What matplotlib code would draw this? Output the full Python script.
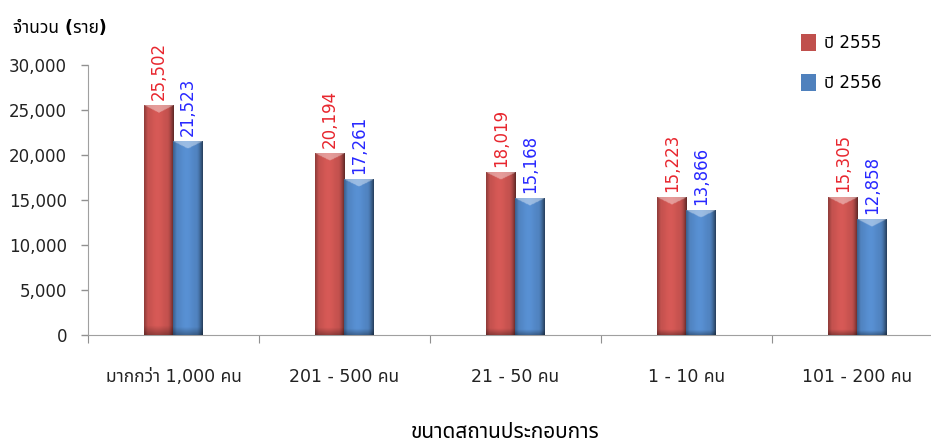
import matplotlib
matplotlib.use("Agg")
import matplotlib.pyplot as plt
import numpy as np
from matplotlib import font_manager
from matplotlib.ft2font import FT2Font
from matplotlib.ticker import FuncFormatter

# ข้อมูลจำนวนราย แยกตามขนาดสถานประกอบการ
categories = ['มากกว่า 1,000 คน', '201 - 500 คน', '21 - 50 คน', '1 - 10 คน', '101 - 200 คน']
values_2555 = [25502, 20194, 18019, 15223, 15305]
values_2556 = [21523, 17261, 15168, 13866, 12858]
series_names = ['ปี 2555', 'ปี 2556']


def find_thai_font():
    # หาฟอนต์ที่มีอักษรไทยในเครื่อง
    found = []
    for path in font_manager.findSystemFonts():
        try:
            cmap = FT2Font(path).get_charmap()
        except Exception:
            continue
        if 0x0E01 in cmap and 0x0E33 in cmap:
            name = font_manager.FontProperties(fname=path).get_name()
            found.append(name)
    for pref in ['Tahoma', 'Noto Sans Thai', 'Noto Sans Thai UI', 'Loma', 'Garuda', 'Norasi']:
        if pref in found:
            return pref
    return found[0] if found else None


thai = find_thai_font()
families = ['DejaVu Sans'] + ([thai] if thai else [])
plt.rcParams['font.family'] = families

red = '#c0504d'
blue = '#4f81bd'


def shade_bar(ax, rect, color):
    # แต่งแท่งให้ดูนูนด้วยการไล่เฉดสี
    x0, y0 = rect.get_x(), rect.get_y()
    w, h = rect.get_width(), rect.get_height()
    base = np.array(matplotlib.colors.to_rgb(color))
    nx, ny = 40, 300
    u = np.linspace(0, 1, nx)
    prof = 1.0 + 0.12 * np.exp(-((u - 0.45) / 0.25) ** 2)
    prof = prof - 0.5 * np.clip((u - 0.8) / 0.2, 0, 1) ** 1.5
    prof = prof - 0.25 * np.clip((0.12 - u) / 0.12, 0, 1)
    img = np.ones((ny, nx, 3)) * base
    img = img * prof[None, :, None]
    v = np.linspace(0, 1, ny)[:, None]
    bottom = 1 - 0.3 * np.clip((0.04 - v) / 0.04, 0, 1)
    img = img * bottom[:, :, None]
    # แถบสว่างรูปตัววีด้านบน
    top_px = 16.0 / 270 * 30000
    vv = (h - v * h) / top_px
    chevron = (vv < (1 - np.abs(u - 0.5) * 2)[None, :] * 0.45) & (vv >= 0)
    img[chevron] = img[chevron] * 0.6 + 0.4
    img = np.clip(img, 0, 1)
    ax.imshow(img, extent=(x0, x0 + w, y0, y0 + h), origin='lower',
              aspect='auto', zorder=3, interpolation='bilinear')


fig = plt.figure(figsize=(9.31, 4.43), dpi=100)
ax = fig.add_axes([0.0945, 0.2438, 0.918, 0.6095])

x = np.arange(len(categories))
width = 0.17
bars1 = ax.bar(x - width / 2, values_2555, width, color=red, label=series_names[0], zorder=2)
bars2 = ax.bar(x + width / 2, values_2556, width, color=blue, label=series_names[1], zorder=2)

for rect in bars1:
    shade_bar(ax, rect, red)
for rect in bars2:
    shade_bar(ax, rect, blue)

for bars, vals, col in [(bars1, values_2555, '#e8262e'), (bars2, values_2556, '#2828ff')]:
    for rect, v in zip(bars, vals):
        ax.annotate(f'{v:,}', (rect.get_x() + rect.get_width() / 2, v),
                    xytext=(0, 4), textcoords='offset points', rotation=90,
                    ha='center', va='bottom', color=col, fontsize=12)

ax.set_xlim(-0.5, len(categories) - 0.5)
ax.set_ylim(0, 30000)
ax.set_yticks(np.arange(0, 30001, 5000))
ax.yaxis.set_major_formatter(FuncFormatter(lambda v, p: f'{int(v):,}'))
ax.tick_params(axis='y', labelsize=12, color='#909090', length=5, width=1, pad=10, labelcolor='#222222')

# ขีดแบ่งกลุ่มบนแกนนอน
ax.set_xticks(np.arange(-0.5, len(categories), 1.0))
ax.set_xticklabels([])
ax.set_xticks(x, minor=True)
ax.set_xticklabels(categories, minor=True, fontsize=12.5, color='#222222')
ax.tick_params(axis='x', which='major', direction='out', length=6, color='#909090')
ax.tick_params(axis='x', which='minor', length=0, pad=24)

for s in ['top', 'right']:
    ax.spines[s].set_visible(False)
for s in ['left', 'bottom']:
    ax.spines[s].set_color('#a0a0a0')

fig.text(13 / 931, 1 - 28 / 443, 'จำนวน (ราย)', fontsize=12.5, fontweight='bold', va='center', ha='left')
fig.text(505 / 931, 1 - 432 / 443, 'ขนาดสถานประกอบการ', fontsize=15, fontweight='bold', va='center', ha='center')

leg = ax.legend(loc='upper left', bbox_to_anchor=(786 / 931, 1 - 19 / 443),
                bbox_transform=fig.transFigure, frameon=False, fontsize=12,
                handlelength=0.9, handleheight=1.2, handletextpad=0.5, labelspacing=1.3)

fig.savefig('out.png', dpi=100)
